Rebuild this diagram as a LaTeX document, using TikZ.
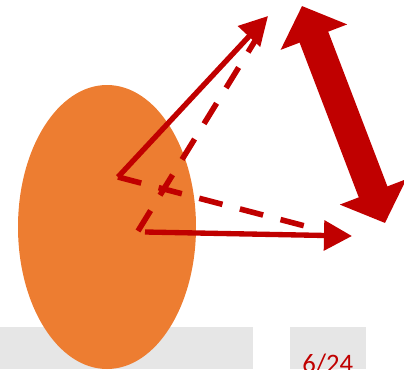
\documentclass[tikz,border=0pt]{standalone}
\usepackage{fontspec}
\setmainfont{Carlito}
\usetikzlibrary{arrows.meta}
\definecolor{darkred}{HTML}{C00000}
\definecolor{orng}{HTML}{ED7D31}
\definecolor{bargray}{HTML}{E6E6E6}

\begin{document}
\begin{tikzpicture}[
    x=0.75pt, y=-0.75pt,
    bar/.style={fill=bargray, draw=none},
    blob/.style={fill=orng, draw=none},
    ray/.style={darkred, line width=4pt, -{Triangle[length=21pt, width=22pt]}},
    dashray/.style={darkred, line width=4.2pt, dash pattern=on 18pt off 13.5pt},
    span/.style={darkred, line width=23pt, {Triangle[length=25pt, width=52pt]}-{Triangle[length=25pt, width=52pt]}},
    pageno/.style={font=\fontsize{20}{24}\selectfont, text=darkred, inner sep=0pt, anchor=base west}
]
\clip (0,0) rectangle (404,369);

% --- grey bars at the bottom ---
\fill[bar] (0,327) rectangle (253,369);
\fill[bar] (290,327) rectangle (366,369);

% --- orange ellipse ---
\fill[blob] (107,227) ellipse [x radius=89, y radius=142];

% --- end points ---
\coordinate (O) at (118,177);
\coordinate (B) at (138,231);
\coordinate (C) at (145,232);
\coordinate (T1) at (268,16);
\coordinate (T2) at (352,236);
\coordinate (D1) at (258,36);
\coordinate (D2) at (305,226);
\coordinate (U) at (302,6);
\coordinate (L) at (385,223);

% --- dashed lines ---
\draw[dashray] (B) -- (D1);
\draw[dashray] (O) -- (D2);

% --- solid arrows ---
\draw[ray] (O) -- (T1);
\draw[ray] (C) -- (T2);

% --- double arrow ---
\draw[span] (U) -- (L);

% --- page number ---
\node[pageno] (page) at (302,372) {6/24};

\end{tikzpicture}
\end{document}
